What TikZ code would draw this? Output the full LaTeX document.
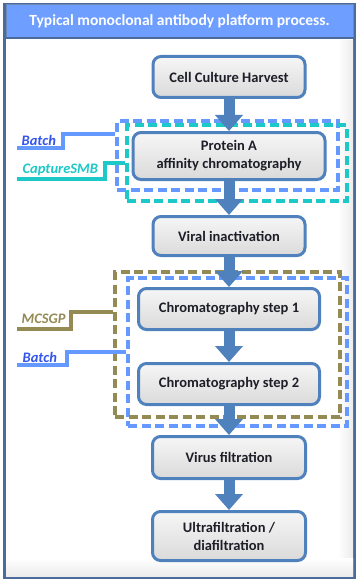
\documentclass[tikz,border=0pt]{standalone}
\usepackage{fontspec}
\setmainfont{Carlito}
\usetikzlibrary{arrows.meta}
\definecolor{boxline}{HTML}{4F81BD}
\definecolor{boxfill}{HTML}{EDEDED}
\definecolor{batchblue}{HTML}{6699FF}
\definecolor{batchtext}{HTML}{3355EE}
\definecolor{smbteal}{HTML}{1CC8C8}
\definecolor{mcsgpolive}{HTML}{948A54}
\definecolor{framecol}{HTML}{4A6B9C}
\definecolor{titlefill}{HTML}{6E9EFF}
\definecolor{textdark}{HTML}{1E1E28}

\begin{document}
\begin{tikzpicture}[x=1pt, y=-1pt,
    procbox/.style={draw=boxline, line width=3pt, rounded corners=8pt,
        top color=boxfill!50!white, bottom color=boxfill!92!black,
        text=textdark, font=\fontsize{14.5}{18}\selectfont\bfseries,
        align=center, inner sep=0pt},
    flowarrow/.style={draw=boxline, line width=11pt,
        -{Triangle[width=27pt, length=16pt]}},
    groupbox/.style={line width=4pt, dash pattern=on 9pt off 4.5pt, inner sep=0pt},
    tag/.style={anchor=base west, inner sep=0pt,
        font=\fontsize{14.5}{18}\selectfont\bfseries\itshape},
    tagline/.style={line width=4pt}]
    \useasboundingbox (0,0) rectangle (359,583);

    % Frame and title
    \draw[framecol, line width=3pt, fill=white] (4.5,4.5) rectangle (354.5,577.5);
    \shade[left color=white, right color=gray!15] (338,41) rectangle (353,576);
    \shade[top color=white, bottom color=gray!15] (6,558) rectangle (353,576);
    \node[fill=titlefill, draw=framecol!80, line width=1pt, minimum width=347,
        minimum height=33, text=white, font=\fontsize{15.5}{18}\selectfont\bfseries]
        (title) at (179.5,21.5) {Typical monoclonal antibody platform process.};
    \draw[framecol, line width=2pt] (title.south west) -- (title.south east);

    % Process groups
    \node[groupbox, draw=batchblue, minimum width=221, minimum height=69] (batchA) at (227.5,155.5) {};
    \node[groupbox, draw=smbteal, minimum width=220, minimum height=76] (smb) at (237,163) {};
    \node[groupbox, draw=batchblue, minimum width=219, minimum height=148] (batchB) at (237.5,352) {};
    \node[groupbox, draw=mcsgpolive, minimum width=225, minimum height=145] (mcsgp) at (227.5,344.5) {};

    % Process steps
    \node[procbox, minimum width=152, minimum height=41] (harvest) at (229,77) {Cell Culture Harvest};
    \node[procbox, minimum width=192, minimum height=47] (protA) at (229,156) {Protein A\\affinity chromatography};
    \node[procbox, minimum width=152, minimum height=39] (viral) at (229,236) {Viral inactivation};
    \node[procbox, minimum width=181, minimum height=41] (chrom1) at (229,309) {Chromatography step 1};
    \node[procbox, minimum width=181, minimum height=41] (chrom2) at (229,384) {Chromatography step 2};
    \node[procbox, minimum width=153, minimum height=42] (virus) at (229,457.5) {Virus filtration};
    \node[procbox, minimum width=153, minimum height=49] (ultra) at (229,536) {Ultrafiltration /\\diafiltration};

    % Flow
    \draw[flowarrow] (harvest.south) -- (protA.north);
    \draw[flowarrow] (protA.south) -- (viral.north);
    \draw[flowarrow] (viral.south) -- (chrom1.north);
    \draw[flowarrow] (chrom1.south) -- (chrom2.north);
    \draw[flowarrow] (chrom2.south) -- (virus.north);
    \draw[flowarrow] (virus.south) -- (ultra.north);

    % Mode labels
    \node[tag, text=batchtext] (batchAtag) at (21.5,145) {Batch};
    \coordinate (batchAend) at (17,148);
    \coordinate (batchAbend) at (63,134);
    \draw[tagline, batchblue] (batchAend) -| (batchAbend) -- (batchAbend -| batchA.west);

    \node[tag, text=smbteal] (smbtag) at (22.5,173) {CaptureSMB};
    \coordinate (smbend) at (17,179);
    \coordinate (smbbend) at (105,163);
    \draw[tagline, smbteal] (smbend) -| (smbbend) -- (smbbend -| smb.west);

    \node[tag, text=mcsgpolive] (mcsgptag) at (21.5,323) {MCSGP};
    \coordinate (mcsgpend) at (17,329);
    \coordinate (mcsgpbend) at (71,312);
    \draw[tagline, mcsgpolive] (mcsgpend) -| (mcsgpbend) -- (mcsgpbend -| mcsgp.west);

    \node[tag, text=batchtext] (batchBtag) at (22.5,362) {Batch};
    \coordinate (batchBend) at (17,365);
    \coordinate (batchBbend) at (67,352);
    \draw[tagline, batchblue] (batchBend) -| (batchBbend) -- (batchBbend -| batchB.west);
\end{tikzpicture}
\end{document}
